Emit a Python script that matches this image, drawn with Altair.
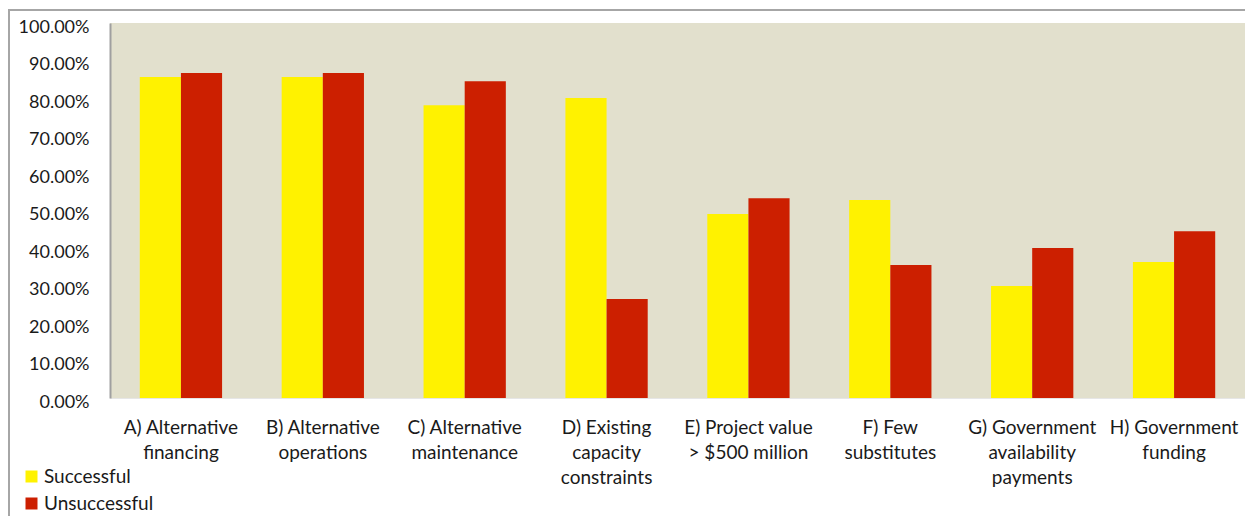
import altair as alt
import pandas as pd

categories = [
    "A) Alternative|financing",
    "B) Alternative|operations",
    "C) Alternative|maintenance",
    "D) Existing|capacity|constraints",
    "E) Project value|> $500 million",
    "F) Few|substitutes",
    "G) Government|availability|payments",
    "H) Government|funding",
]
successful = [0.856, 0.856, 0.781, 0.800, 0.491, 0.528, 0.299, 0.363]
unsuccessful = [0.867, 0.867, 0.845, 0.264, 0.533, 0.355, 0.400, 0.445]
series = ["Successful", "Unsuccessful"]
colors = ["#FFF200", "#CC1F00"]
y_ticks = [i / 10 for i in range(11)]

rows = []
for c, s, u in zip(categories, successful, unsuccessful):
    rows.append({"cat": c, "series": series[0], "value": s})
    rows.append({"cat": c, "series": series[1], "value": u})
df = pd.DataFrame(rows)

W, H = 1135, 375
FONT = "Lato"

bars = alt.Chart(df).mark_bar(stroke=None).encode(
    x=alt.X(
        "cat:N",
        sort=categories,
        title=None,
        scale=alt.Scale(paddingInner=0.42, paddingOuter=0.21),
        axis=alt.Axis(
            labelAngle=0,
            labelExpr="split(datum.label, '|')",
            labelFont=FONT,
            labelFontSize=19,
            labelColor="#1a1a1a",
            labelLineHeight=25,
            labelPadding=20,
            labelBaseline="top",
            ticks=False,
            domain=True,
            domainColor="#e6e6e6",
            domainWidth=1,
            labelLimit=200,
        ),
    ),
    xOffset=alt.XOffset("series:N", sort=series, scale=alt.Scale(paddingInner=0, paddingOuter=0)),
    y=alt.Y(
        "value:Q",
        title=None,
        scale=alt.Scale(domain=[0, 1], nice=False),
        axis=alt.Axis(
            values=y_ticks,
            format=".2%",
            grid=False,
            ticks=False,
            labelFont=FONT,
            labelFontSize=18,
            labelColor="#1a1a1a",
            labelPadding=21,
            labelOffset=4,
            domainColor="#a0a0a0",
            domainWidth=2,
        ),
    ),
    color=alt.Color(
        "series:N",
        sort=series,
        scale=alt.Scale(domain=series, range=colors),
        legend=alt.Legend(
            title=None,
            orient="none",
            legendX=-88,
            legendY=444,
            symbolType="square",
            symbolSize=144,
            symbolStrokeWidth=0,
            labelFont=FONT,
            labelFontSize=19,
            labelColor="#1a1a1a",
            labelOffset=3,
            rowPadding=7,
        ),
    ),
)

frame_df = pd.DataFrame({"k": [0]})
left_border = alt.Chart(frame_df).mark_rule(color="#a6a6a6", strokeWidth=2).encode(
    x=alt.value(-101), y=alt.value(-13), y2=alt.value(H + 200)
)
top_border = alt.Chart(frame_df).mark_rule(color="#a6a6a6", strokeWidth=2).encode(
    x=alt.value(-102), x2=alt.value(W + 50), y=alt.value(-13)
)

chart = (
    alt.layer(bars, left_border, top_border)
    .properties(
        width=W,
        height=H,
        padding={"left": 102, "top": 15, "right": 0, "bottom": 118},
        autosize=alt.AutoSizeParams(type="none"),
        background="white",
    )
    .configure_view(fill="#E2E0CD", stroke=None)
)

chart.save("out.html", embed_options={"renderer": "svg", "actions": False})
